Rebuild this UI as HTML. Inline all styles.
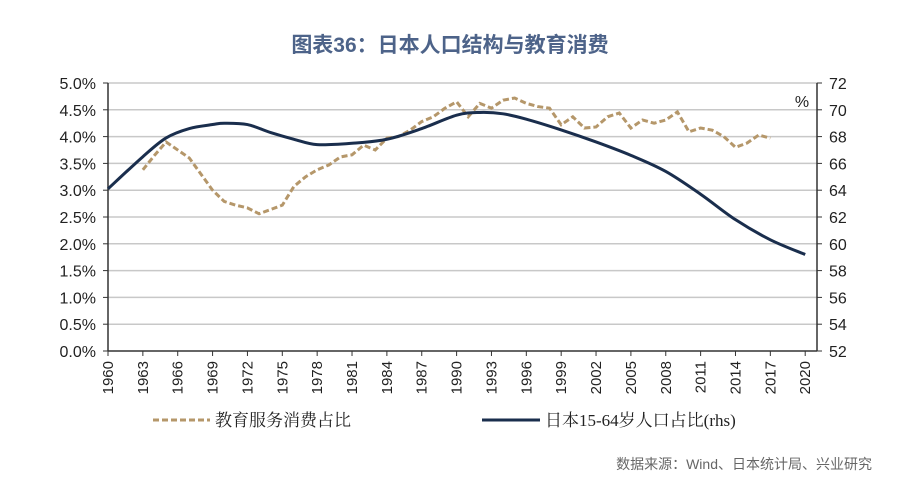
<!DOCTYPE html>
<html><head><meta charset="utf-8"><style>
body{margin:0;background:#fff;width:900px;height:484px;overflow:hidden}
svg text{font-family:"Liberation Sans","Noto Sans CJK SC",sans-serif}
</style></head><body>
<svg id="c" width="900" height="484">
<text x="450" y="52" text-anchor="middle" font-size="21" font-weight="bold" fill="#4d6389">图表36：日本人口结构与教育消费</text>
<g id="grid"></g><g id="axes"></g><g id="series"></g>
<text x="802" y="107" text-anchor="middle" font-size="16" fill="#222">%</text>
<g>
<line x1="153" y1="420" x2="210" y2="420" stroke="#b5976a" stroke-width="3" stroke-dasharray="6,3"/>
<text x="215" y="426" font-size="17" fill="#222" style="font-family:'Liberation Serif','Noto Serif CJK SC',serif">教育服务消费占比</text>
<line x1="482" y1="420" x2="540" y2="420" stroke="#1a2e4d" stroke-width="3"/>
<text x="545" y="426" font-size="17" fill="#222" style="font-family:'Liberation Serif','Noto Serif CJK SC',serif">日本15-64岁人口占比(rhs)</text>
</g>
<text x="872" y="469" text-anchor="end" font-size="14" fill="#666">数据来源：Wind、日本统计局、兴业研究</text>
</svg>
<script>
const eduYears=[1963,1964,1965,1967,1969,1970,1971,1972,1973,1975,1976,1977,1978,1979,1980,1981,1982,1983,1984,1985,1986,1987,1988,1989,1990,1991,1992,1993,1994,1995,1996,1997,1998,1999,2000,2001,2002,2003,2004,2005,2006,2007,2008,2009,2010,2011,2012,2013,2014,2015,2016,2017];
const eduValues=[3.38,3.65,3.9,3.6,3.0,2.79,2.72,2.67,2.56,2.72,3.07,3.25,3.38,3.47,3.62,3.66,3.84,3.75,3.97,4.0,4.12,4.28,4.37,4.53,4.65,4.37,4.62,4.53,4.68,4.72,4.62,4.56,4.53,4.22,4.37,4.16,4.18,4.37,4.44,4.16,4.31,4.25,4.31,4.46,4.09,4.16,4.12,4.0,3.8,3.88,4.03,3.97];
const popYears=[1960,1963,1965,1967,1969,1970,1972,1974,1976,1978,1981,1984,1987,1990,1992,1994,1996,1999,2002,2005,2008,2011,2014,2017,2020];
const popValues=[64.1,66.5,67.9,68.6,68.9,69.0,68.9,68.3,67.8,67.4,67.5,67.8,68.6,69.6,69.8,69.7,69.3,68.5,67.6,66.6,65.4,63.7,61.8,60.3,59.2];
const leftTicks=["0.0%","0.5%","1.0%","1.5%","2.0%","2.5%","3.0%","3.5%","4.0%","4.5%","5.0%"];
const rightTicks=["52","54","56","58","60","62","64","66","68","70","72"];
const L=108,R=817,T=83,B=351;
const x=y=>L+(y-1960)*11.62;
const yl=v=>B-v/5*(B-T);
const yr=v=>B-(v-52)/20*(B-T);
const NS="http://www.w3.org/2000/svg";
function mk(tag,attrs,parent){const e=document.createElementNS(NS,tag);for(const k in attrs)e.setAttribute(k,attrs[k]);parent.appendChild(e);return e;}
const g=document.getElementById('grid'),a=document.getElementById('axes'),s=document.getElementById('series');
leftTicks.forEach((t,i)=>{const yy=B-i*(B-T)/10;
 if(i>0){const ln=mk('line',{x1:L,x2:R,y1:yy,y2:yy,stroke:'#c8c8c8','stroke-width':1.5},g);
 
 }
 mk('line',{x1:L-5,x2:L,y1:yy,y2:yy,stroke:'#333'},a);
 const tx=mk('text',{x:L-12,y:yy+6,'text-anchor':'end','font-size':16,fill:'#222'},a);tx.textContent=t;
 
 
 mk('line',{x1:R,x2:R+5,y1:yy,y2:yy,stroke:'#333'},a);
 const tr=mk('text',{x:R+12,y:yy+6,'font-size':16,fill:'#222'},a);tr.textContent=rightTicks[i];
 
 
});
mk('line',{x1:L,x2:L,y1:T,y2:B,stroke:'#333','stroke-width':1.5},a);
mk('line',{x1:R,x2:R,y1:T,y2:B,stroke:'#333','stroke-width':1.5},a);
mk('line',{x1:L,x2:R,y1:B,y2:B,stroke:'#333','stroke-width':1.5},a);
for(let yv=1960;yv<=2020;yv+=3){const xx=x(yv);
 mk('line',{x1:xx,x2:xx,y1:B,y2:B+5,stroke:'#333'},a);
 const t=mk('text',{x:0,y:0,'font-size':15,fill:'#222','text-anchor':'end',transform:`translate(${xx+5},${B+10}) rotate(-90)`},a);t.textContent=yv;
 
 
}
function smooth(pts){let d=`M${pts[0][0]},${pts[0][1]}`;
 for(let i=0;i<pts.length-1;i++){const p0=pts[i-1]||pts[i],p1=pts[i],p2=pts[i+1],p3=pts[i+2]||p2;
 d+=` C${p1[0]+(p2[0]-p0[0])/6},${p1[1]+(p2[1]-p0[1])/6} ${p2[0]-(p3[0]-p1[0])/6},${p2[1]-(p3[1]-p1[1])/6} ${p2[0]},${p2[1]}`;}
 return d;}
const pe=mk('polyline',{points:eduYears.map((yv,i)=>x(yv)+','+yl(eduValues[i])).join(' '),fill:'none',stroke:'#b5976a','stroke-width':3,'stroke-dasharray':'6,3'},s);


const pp=mk('path',{d:smooth(popYears.map((yv,i)=>[x(yv),yr(popValues[i])])),fill:'none',stroke:'#1a2e4d','stroke-width':3},s);


</script>
</body></html>
